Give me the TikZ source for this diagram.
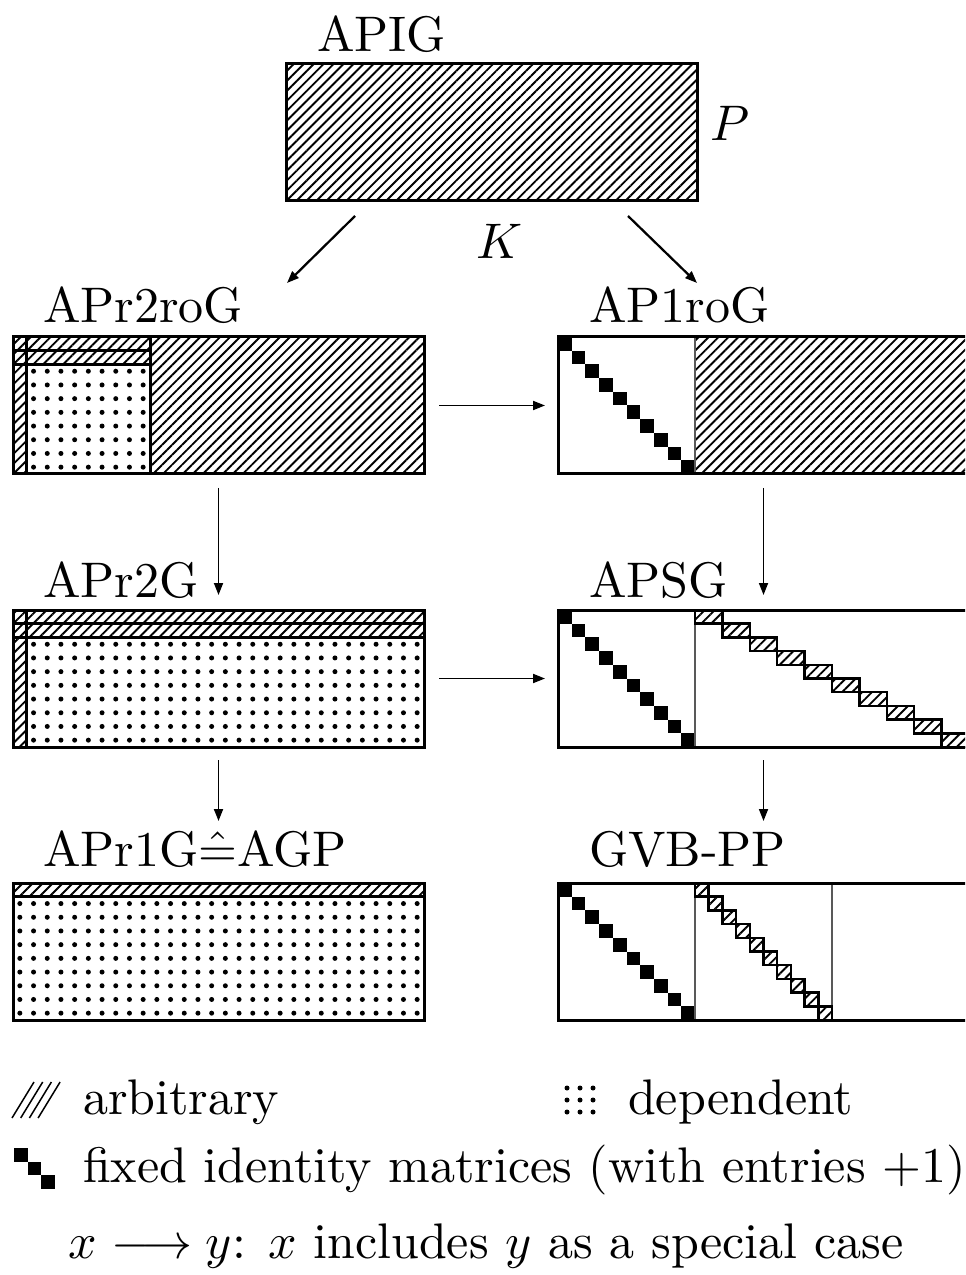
\documentclass[tikz,border=0pt]{standalone}
\usetikzlibrary{patterns.meta,arrows.meta,calc}
\newlength\pxu
\setlength\pxu{0.2pt}
\tikzset{
  hatch/.style={pattern={Lines[angle=45,distance=1.41pt,line width=0.38pt]}},
  mat/.style={draw, line width=0.6pt, rectangle, inner sep=0pt, outer sep=0pt,
    anchor=north west, minimum width=411\pxu, minimum height=137\pxu},
  lbl/.style={anchor=base west, inner sep=0pt},
  arr/.style={-{Triangle[length=2.4pt,width=1.8pt]}, line width=0.35pt},
  grid/.style={line width=0.6pt},
  cell/.style={line width=0.5pt},
  divider/.style={line width=0.3pt, draw=black!65},
  dotfill/.style={fill=black}
}
\begin{document}
\begin{tikzpicture}[x=0.2pt, y=-0.2pt, font=\fontsize{10}{12}\selectfont]
\useasboundingbox (0,0) rectangle (965,1275);
\clip (0,0) rectangle (965,1275);
\def\s{13.7}
\def\dotr{0.5pt}

% ---------- APIG ----------
\node[mat, hatch] (apig) at (286,64) {};
\node[lbl] (apiglbl) at (316,52) {APIG};
\node (P) at (730,123) {$P$};
\node (K) at (500,241) {$K$};

% ---------- APr2roG ----------
\fill[hatch] (13,337) rectangle (26.7,474);
\fill[hatch] (26.7,337) rectangle (150,364.4);
\fill[hatch] (150,337) rectangle (424,474);
\foreach \i in {0,...,8}
  \foreach \j in {0,...,7}
    \fill[dotfill] (26.7+\s*\i+\s/2, 364.4+\s*\j+\s/2) circle (\dotr);
\draw[grid] (26.7,337) -- (26.7,474);
\draw[grid] (13,350.7) -- (150,350.7);
\draw[grid] (13,364.4) -- (150,364.4);
\draw[grid] (150,337) -- (150,474);
\node[mat] (r2ro) at (13,337) {};
\node[lbl] (r2rolbl) at (42,323) {APr2roG};

% ---------- AP1roG ----------
\fill[hatch] (695,337) rectangle (975,474);
\foreach \i in {0,...,9}
  \fill (558+\s*\i, 337+\s*\i) rectangle ++(\s,\s);
\draw[divider] (695,337) -- (695,474);
\node[mat] (p1ro) at (558,337) {};
\node[lbl] (p1rolbl) at (588,323) {AP1roG};

% ---------- APr2G ----------
\fill[hatch] (13,610) rectangle (26.7,747);
\fill[hatch] (26.7,610) rectangle (424,637.4);
\foreach \i in {0,...,28}
  \foreach \j in {0,...,7}
    \fill[dotfill] (26.7+\s*\i+\s/2, 637.4+\s*\j+\s/2) circle (\dotr);
\draw[grid] (26.7,610) -- (26.7,747);
\draw[grid] (13,623.7) -- (424,623.7);
\draw[grid] (13,637.4) -- (424,637.4);
\node[mat] (r2) at (13,610) {};
\node[lbl] (r2lbl) at (42,597) {APr2G};

% ---------- APSG ----------
\foreach \i in {0,...,9}
  \fill (558+\s*\i, 610+\s*\i) rectangle ++(\s,\s);
\draw[divider] (695,610) -- (695,747);
\foreach \i in {0,...,9}
  \draw[cell, hatch] (695+2*\s*\i, 610+\s*\i) rectangle ++(2*\s,\s);
\node[mat] (sg) at (558,610) {};
\node[lbl] (sglbl) at (588,597) {APSG};

% ---------- APr1G ----------
\fill[hatch] (13,883) rectangle (424,896.7);
\foreach \i in {0,...,29}
  \foreach \j in {0,...,8}
    \fill[dotfill] (13+\s*\i+\s/2, 896.7+\s*\j+\s/2) circle (\dotr);
\draw[grid] (13,896.7) -- (424,896.7);
\node[mat] (r1) at (13,883) {};
\node[lbl] (r1lbl) at (42,866) {APr1G$\hat{=}$AGP};

% ---------- GVB-PP ----------
\foreach \i in {0,...,9}
  \fill (558+\s*\i, 883+\s*\i) rectangle ++(\s,\s);
\draw[divider] (695,883) -- (695,1020);
\draw[divider] (832,883) -- (832,1020);
\foreach \i in {0,...,9}
  \draw[cell, hatch] (695+\s*\i, 883+\s*\i) rectangle ++(\s,\s);
\node[mat] (gvb) at (558,883) {};
\node[lbl] (gvblbl) at (588,866) {GVB-PP};

% ---------- inclusions ----------
\draw[arr, line width=0.45pt] ($(apig.south west)+(69,15)$) -- ($(r2ro.north west)+(274,-54)$);
\draw[arr, line width=0.45pt] ($(apig.south east)+(-69,15)$) -- ($(p1ro.north west)+(139,-54)$);
\draw[arr] ($(r2ro.east)+(15,0)$) -- ($(p1ro.west)+(-13,0)$);
\draw[arr] ($(r2.east)+(15,0)$) -- ($(sg.west)+(-13,0)$);
\draw[arr] ($(r2ro.south)+(0,14)$) -- ($(r2.north)+(0,-15)$);
\draw[arr] ($(p1ro.south)+(0,14)$) -- ($(sg.north)+(0,-15)$);
\draw[arr] ($(r2.south)+(0,13)$) -- ($(r1.north)+(0,-62)$);
\draw[arr] ($(sg.south)+(0,13)$) -- ($(gvb.north)+(0,-62)$);

% ---------- legend ----------
\foreach \i in {0,...,3}
  \draw[line width=0.3pt] (12+8.7*\i,1118) -- (34+8.7*\i,1082);
\node[lbl] (arbl) at (82,1114) {arbitrary};
\foreach \i in {0,...,2}
  \foreach \j in {0,...,2}
    \fill[dotfill] (567+13*\i, 1088+12*\j) circle (\dotr);
\node[lbl] (depl) at (627,1114) {dependent};
\foreach \i in {0,...,2}
  \fill (14+\s*\i, 1148+\s*\i) rectangle ++(\s,\s);
\node[lbl] (idl) at (82,1182) {fixed identity matrices (with entries $+1$)};
\node[lbl] (incl) at (68,1258) {$x\longrightarrow y$: $x$ includes $y$ as a special case};
\end{tikzpicture}
\end{document}
